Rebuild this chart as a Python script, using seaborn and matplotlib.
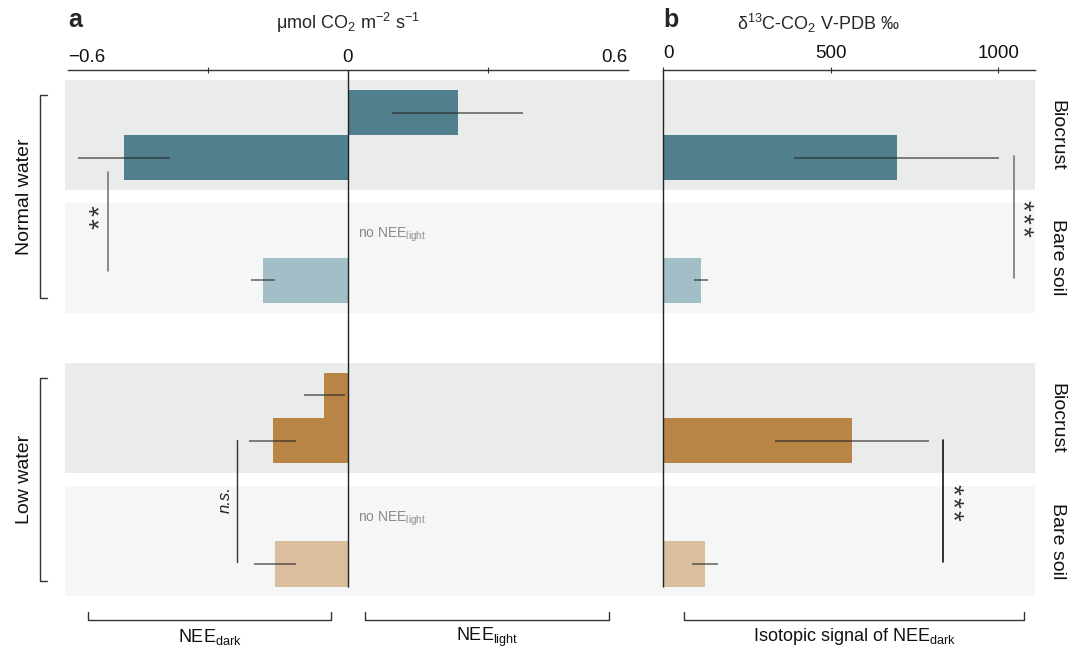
import numpy as np
import pandas as pd
import matplotlib
matplotlib.use("Agg")
import matplotlib.pyplot as plt
import matplotlib.transforms as mtransforms
import seaborn as sns

# rows, top to bottom
groups = ["Normal water", "Low water"]
soils = ["Biocrust", "Bare soil", "Biocrust", "Bare soil"]
row_keys = ["nb", "ns", "lb", "ls"]

# panel a: NEE in umol CO2 m-2 s-1 (None = no NEE_light measured)
nee_light = [0.235, None, -0.051, None]
nee_light_err = [0.141, None, 0.044, None]
nee_dark = [-0.480, -0.182, -0.161, -0.156]
nee_dark_err = [0.098, 0.026, 0.050, 0.045]

# panel b: isotopic signal of NEE_dark, d13C-CO2 V-PDB permil
iso_dark = [698, 113, 564, 125]
iso_dark_err = [306, 21, 230, 39]

row_colors = {"nb": "#527f8e", "ns": "#a2bec7", "lb": "#b98547", "ls": "#dbbe9e"}
band_colors = ["#eaebeb", "#f5f7f6", "#eaebeb", "#f5f7f6"]

# layout on the y scale
row_pos = [0.0, 1.0, 2.31, 3.318]
half = 0.184        # half a bar height
band_half = 0.449
y_top, y_bot = -0.531, 3.796

rows_a = []
for i, k in enumerate(row_keys):
    if nee_light[i] is not None:
        rows_a.append(dict(pos=row_pos[i] - half, value=nee_light[i], err=nee_light_err[i], key=k))
    rows_a.append(dict(pos=row_pos[i] + half, value=nee_dark[i], err=nee_dark_err[i], key=k))
df_a = pd.DataFrame(rows_a)
df_b = pd.DataFrame(dict(pos=np.array(row_pos) + half, value=iso_dark, err=iso_dark_err, key=row_keys))


def bar_width(pos):
    u = np.unique(pos)
    return 2 * half / (np.diff(u).min() if len(u) > 1 else 1)


def stars(ax, x, yc, n, rot):
    # stacked asterisks, one text each so the spacing can be set
    dy = 0.105
    for k in range(n):
        ax.text(x, yc + (k - (n - 1) / 2) * dy, "*", rotation=rot, ha="center", va="center",
                fontsize=20, color="#333333", clip_on=False)


sns.set_style("white")
plt.rcParams["font.family"] = ["Liberation Sans", "DejaVu Sans"]
plt.rcParams["mathtext.default"] = "regular"

fig = plt.figure(figsize=(10.8, 6.49), dpi=100)
ax_a = fig.add_axes([65 / 1080, 1 - 600 / 649, 598 / 1080, 530 / 649])
ax_b = fig.add_axes([663 / 1080, 1 - 600 / 649, 372 / 1080, 530 / 649])

for ax, df in [(ax_a, df_a), (ax_b, df_b)]:
    ax.set_facecolor("none")
    for i, c in enumerate(row_pos):
        ax.axhspan(c - band_half, c + band_half, color=band_colors[i], lw=0, zorder=0)
    sns.barplot(data=df, x="value", y="pos", hue="key", palette=row_colors,
                orient="y", native_scale=True, dodge=False, width=bar_width(df.pos),
                errorbar=None, legend=False, saturation=1, linewidth=0, ax=ax, zorder=2)
    ax.errorbar(df.value, df.pos, xerr=df.err, fmt="none", ecolor="#222222",
                alpha=0.6, elinewidth=1.3, capsize=0, zorder=3)
    ax.set_ylim(y_bot, y_top)
    ax.set_yticks([])
    ax.set_xlabel("")
    ax.set_ylabel("")
    for s in ["left", "right", "bottom"]:
        ax.spines[s].set_visible(False)
    ax.spines["top"].set_color("#333333")
    ax.spines["top"].set_linewidth(1)
    ax.xaxis.tick_top()

last_bottom = row_pos[-1] + 2 * half

# panel a axis
ax_a.set_xlim(-0.606, 0.675)
ax_a.spines["top"].set_bounds(-0.6, 0.6)
ax_a.set_xticks([-0.6, 0, 0.6], labels=["\u22120.6", "0", "0.6"])
ax_a.set_xticks([-0.3, 0.3], minor=True)
ax_a.tick_params(axis="x", which="major", length=0, pad=3, labelsize=13.5, colors="#111111")
ax_a.tick_params(axis="x", which="minor", length=5, direction="inout", width=0.8, color="#333333")
lab = ax_a.get_xticklabels()
lab[0].set_ha("left")
lab[2].set_ha("right")
ax_a.vlines(0, y_top, last_bottom, color="#222222", lw=1, zorder=4)

# panel b axis
ax_b.set_xlim(0, 1110)
ax_b.set_xticks([0, 500, 1000], labels=["0", "500", "1000"])
ax_b.tick_params(axis="x", which="major", length=5, direction="inout", width=0.8,
                 color="#333333", pad=3, labelsize=13.5, labelcolor="#111111")
ax_b.get_xticklabels()[0].set_ha("left")
ax_b.vlines(0, y_top, last_bottom, color="#222222", lw=1, zorder=4, clip_on=False)

# no NEE_light notes
for i in range(4):
    if nee_light[i] is None:
        ax_a.text(0.021, row_pos[i] - half, "no NEE$_{light}$", color="#8a8a8a",
                  fontsize=10, ha="left", va="center", zorder=5)

# significance marks
ax_a.plot([-0.514, -0.514], [0.30, 1.11], color="#777777", lw=1.2)
stars(ax_a, -0.529, 0.67, 2, 90)
ax_a.plot([-0.238, -0.238], [2.49, 3.486], color="#333333", lw=1)
ax_a.text(-0.262, 2.98, "n.s.", rotation=90, ha="center", va="center", fontsize=12,
          style="italic", color="#222222")
ax_b.plot([1048, 1048], [0.171, 1.167], color="#777777", lw=1.2, clip_on=False)
stars(ax_b, 1069, 0.68, 3, 270)
ax_b.plot([836, 836], [2.49, 3.486], color="#111111", lw=1.2)
stars(ax_b, 860, 3.0, 3, 270)

# soil labels on the right
for i, s in enumerate(soils):
    ax_b.text(1176, row_pos[i], s, rotation=270, ha="center", va="center",
              fontsize=14, color="#111111", clip_on=False)

# water group labels and brackets on the left
tr = mtransforms.blended_transform_factory(fig.transFigure, ax_a.transData)
for g, (i0, i1) in zip(groups, [(0, 1), (2, 3)]):
    c = (row_pos[i0] + row_pos[i1]) / 2
    lo, hi = c - 0.83, c + 0.83
    ax_a.plot([47 / 1080, 40 / 1080, 40 / 1080, 47 / 1080], [lo, lo, hi, hi],
              color="#333333", lw=1, transform=tr, clip_on=False)
    ax_a.text(25 / 1080, c, g, rotation=90, ha="center", va="center",
              fontsize=14, color="#111111", transform=tr)

# bottom brackets
yb0, yb1, ylab = 3.894, 3.959, 4.098
for ax, x0, x1, txt in [(ax_a, -0.557, -0.036, "NEE$_{dark}$"),
                        (ax_a, 0.036, 0.559, "NEE$_{light}$"),
                        (ax_b, 63, 1078, "Isotopic signal of NEE$_{dark}$")]:
    ax.plot([x0, x0, x1, x1], [yb0, yb1, yb1, yb0], color="#333333", lw=1, clip_on=False)
    ax.text((x0 + x1) / 2, ylab, txt, ha="center", va="center", fontsize=13,
            color="#111111", clip_on=False)

# headers
fig.text(68 / 1080, 1 - 20 / 649, "a", fontsize=18, weight="bold", ha="left", va="center")
fig.text(348 / 1080, 1 - 23 / 649, "\u03bcmol CO$_2$ m$^{-2}$ s$^{-1}$", fontsize=13,
         ha="center", va="center")
fig.text(663 / 1080, 1 - 20 / 649, "b", fontsize=18, weight="bold", ha="left", va="center")
fig.text(818 / 1080, 1 - 23 / 649, "\u03b4$^{13}$C-CO$_2$ V-PDB \u2030", fontsize=13,
         ha="center", va="center")

fig.savefig("out.png", dpi=100)
